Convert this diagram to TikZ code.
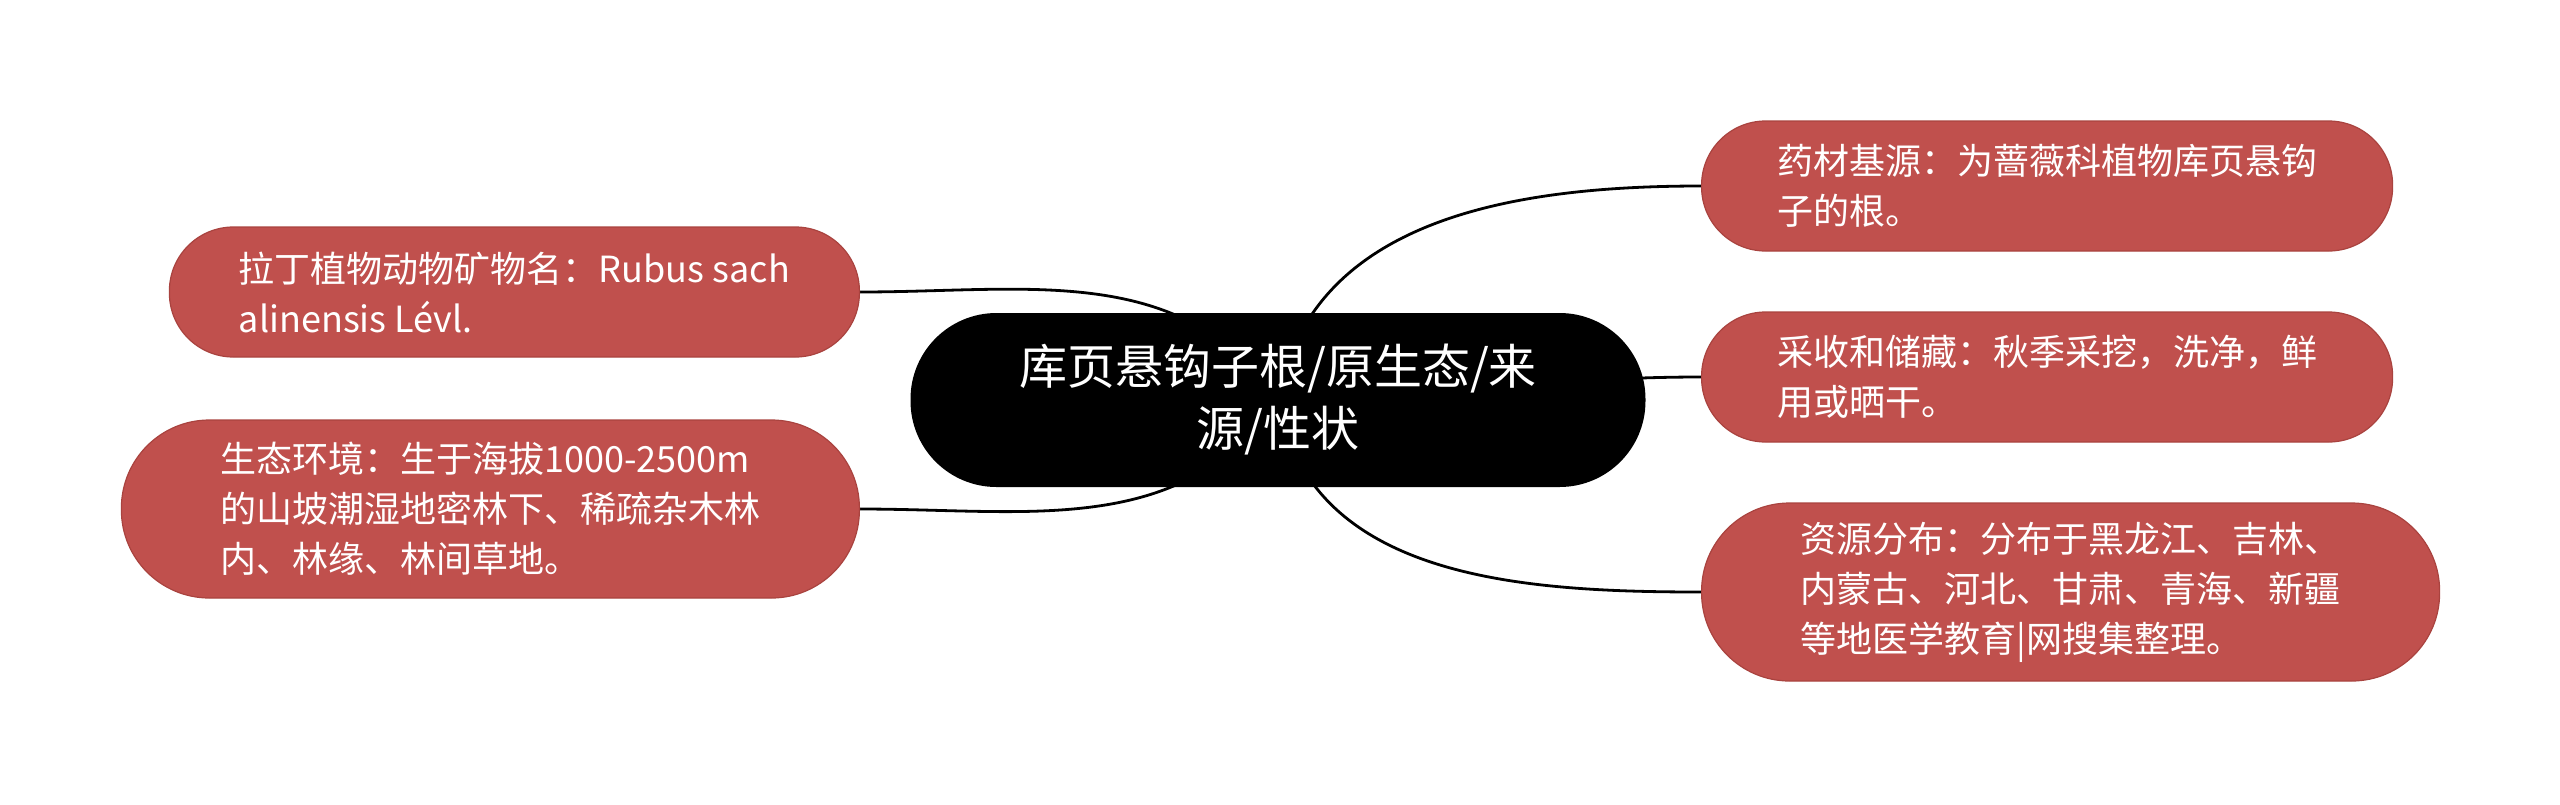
\documentclass[tikz,border=0pt]{standalone}
\usepackage{fontspec}
\setmainfont{Noto Sans CJK SC}
\usetikzlibrary{backgrounds}
\definecolor{leafred}{HTML}{C0504D}
\definecolor{leafedge}{HTML}{A9433F}

\begin{document}
\begin{tikzpicture}[x=0.5pt,y=-0.5pt,
  root/.style={fill=black,text=white,rounded corners=43pt,minimum width=367.5pt,
    minimum height=87pt,inner sep=0pt,align=center,font=\fontsize{24}{31}\selectfont},
  leaf/.style={fill=leafred,draw=leafedge,line width=0.6pt,text=white,inner sep=0pt,
    align=left,font=\fontsize{18}{25}\selectfont},
  twoline/.style={minimum height=65pt,rounded corners=32pt},
  threeline/.style={minimum height=89pt,rounded corners=44pt},
  link/.style={line width=1.4pt}]

\useasboundingbox (0,0) rectangle (2560,804);

% centre
\node[root] (root) at (1278,400) {库页悬钩子根/原生态/来\\源/性状};

% left side
\node[leaf,twoline,minimum width=345pt,anchor=east] (latin) at (860,292)
  {拉丁植物动物矿物名：Rubus sach\\alinensis Lévl.};
\node[leaf,threeline,minimum width=369pt,anchor=east] (habitat) at (860,509)
  {生态环境：生于海拔1000-2500m\\的山坡潮湿地密林下、稀疏杂木林\\内、林缘、林间草地。};

% right side
\node[leaf,twoline,minimum width=345.5pt,anchor=west] (origin) at (1701,186)
  {药材基源：为蔷薇科植物库页悬钩\\子的根。};
\node[leaf,twoline,minimum width=345.5pt,anchor=west] (harvest) at (1701,377)
  {采收和储藏：秋季采挖，洗净，鲜\\用或晒干。};
\node[leaf,threeline,minimum width=369pt,anchor=west] (range) at (1701,592)
  {资源分布：分布于黑龙江、吉林、\\内蒙古、河北、甘肃、青海、新疆\\等地医学教育|网搜集整理。};

\begin{pgfonlayer}{background}
\draw[link] (root.center) to[out=125,in=0] (latin.east);
\draw[link] (root.center) to[out=235,in=0] (habitat.east);
\draw[link] (root.center) to[out=80,in=180] (origin.west);
\draw[link] (root.center) to[out=0,in=180] (harvest.west);
\draw[link] (root.center) to[out=-80,in=180] (range.west);
\end{pgfonlayer}

\end{tikzpicture}
\end{document}
